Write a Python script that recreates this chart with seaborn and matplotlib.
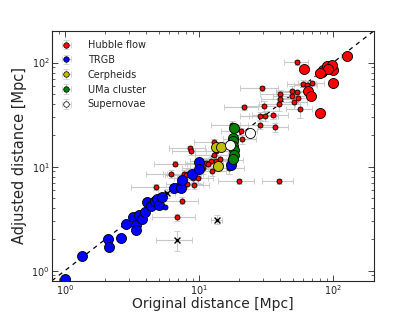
import numpy as np
import pandas as pd
import matplotlib
matplotlib.use("Agg")
import matplotlib.pyplot as plt
import seaborn as sns

# Hubble flow, small points (original / adjusted distance in Mpc)
hub_small_x = [53.7, 29.5, 21.5, 60.1, 69.8, 49.6, 53.7, 49.3, 50.7, 40.4,
               40.4, 39.7, 56.8, 35.6, 31.2, 28.7, 30.7, 28.7, 37.0, 20.7,
               17.7, 20.9, 13.0, 8.54, 8.75, 13.3, 12.9, 12.2, 13.3, 11.2,
               10.7, 12.5, 14.4, 16.9, 16.7, 19.8, 39.7, 6.61, 6.21, 7.71,
               8.26, 9.06, 9.80, 9.15, 8.17, 4.75, 7.50, 6.88, 7.94, 63.7,
               54.3, 11.6]
hub_small_y = [100.7, 56.5, 37.0, 62.7, 63.4, 53.6, 51.6, 48.0, 42.0, 49.9,
               44.6, 39.9, 35.7, 31.4, 30.8, 30.8, 38.4, 25.2, 24.1, 22.0,
               25.2, 18.3, 17.2, 15.0, 14.1, 14.1, 12.9, 11.3, 11.3, 10.9,
               9.73, 9.05, 11.9, 11.5, 9.73, 7.24, 7.24, 10.7, 8.52, 8.41,
               8.52, 7.69, 7.79, 6.63, 6.82, 6.38, 4.72, 3.25, 8.28, 60.9,
               45.6, 10.6]
# relative errors
hub_small_xerr = [0.20, 0.32, 0.28, 0.25, 0.22, 0.25, 0.30, 0.28, 0.25, 0.30,
                  0.28, 0.30, 0.22, 0.30, 0.25, 0.30, 0.28, 0.30, 0.25, 0.30,
                  0.30, 0.28, 0.30, 0.30, 0.28, 0.30, 0.28, 0.30, 0.25, 0.30,
                  0.30, 0.28, 0.30, 0.25, 0.30, 0.30, 0.26, 0.30, 0.35, 0.30,
                  0.30, 0.28, 0.30, 0.30, 0.30, 0.35, 0.30, 0.35, 0.30, 0.20,
                  0.25, 0.30]
hub_small_yerr = [0.05, 0.05, 0.05, 0.08, 0.06, 0.10, 0.06, 0.12, 0.15, 0.08,
                  0.10, 0.15, 0.18, 0.08, 0.10, 0.08, 0.12, 0.08, 0.10, 0.08,
                  0.10, 0.10, 0.08, 0.06, 0.08, 0.10, 0.12, 0.10, 0.15, 0.10,
                  0.12, 0.10, 0.08, 0.10, 0.12, 0.05, 0.05, 0.06, 0.08, 0.10,
                  0.12, 0.10, 0.10, 0.08, 0.10, 0.06, 0.08, 0.08, 0.10, 0.08,
                  0.12, 0.10]

# Hubble flow, large points
hub_big_x = [126.5, 60.9, 100.5, 100.5, 80.3, 65.5, 68.2, 82.4, 84.7, 89.8, 97.8, 92.3, 80.0]
hub_big_y = [115.0, 86.9, 84.7, 63.7, 32.5, 53.1, 48.0, 80.5, 85.0, 93.5, 95.7, 86.9, 78.8]
hub_big_xerr = [0.09, 0.08, 0.08, 0.09, 0.08, 0.07, 0.07, 0.08, 0.08, 0.08, 0.08, 0.08, 0.08]
hub_big_yerr = [0.05, 0.05, 0.05, 0.05, 0.05, 0.05, 0.05, 0.05, 0.05, 0.05, 0.05, 0.05, 0.05]

# TRGB
trgb_x = [1.00, 1.35, 2.10, 2.14, 2.62, 2.87, 3.24, 3.37, 3.39, 3.55, 3.74, 3.95,
          4.09, 4.36, 4.67, 4.89, 5.02, 5.33, 6.50, 7.29, 7.41, 8.90, 9.97, 9.97, 17.3]
trgb_y = [0.824, 1.38, 2.02, 1.68, 2.08, 2.78, 3.27, 2.77, 2.47, 3.45, 3.16, 3.66,
          4.57, 4.22, 4.64, 4.93, 4.31, 5.15, 6.27, 6.27, 7.36, 8.52, 11.05, 9.56, 10.3]
trgb_small_x = [5.57]
trgb_small_y = [4.11]

# Cepheids
ceph_x = [13.4, 14.7, 13.9]
ceph_y = [15.3, 15.5, 10.2]

# UMa cluster
uma_x = [18.1, 17.9, 17.8, 18.0, 18.1, 18.1, 18.0]
uma_y = [23.4, 19.0, 17.5, 15.8, 14.3, 12.9, 11.9]

# Supernovae
sn_x = [23.9, 16.9]
sn_y = [20.9, 16.1]

# outliers (crosses)
cross_x = [13.6, 6.88, 5.8]
cross_y = [3.09, 1.98, 5.6]
cross_xerr = [0.10, 0.30, 0.15]
cross_yerr = [0.10, 0.22, 0.10]

diag = [0.8, 200]

legend_labels = ["Hubble flow", "TRGB", "Cerpheids", "UMa cluster", "Supernovae"]
legend_colors = ["r", "b", "y", "g", "w"]

sns.set_style("ticks")
plt.rcParams["font.family"] = ["DejaVu Sans"]
plt.rcParams["xtick.direction"] = "in"
plt.rcParams["ytick.direction"] = "in"
plt.rcParams["xtick.top"] = True
plt.rcParams["ytick.right"] = True

fig = plt.figure(figsize=(4.15, 3.12), dpi=100)
ax = fig.add_axes([0.125, 0.1, 0.775, 0.8])
ax.set_xscale("log")
ax.set_yscale("log")


def bars(x, y, xe, ye, z=2):
    x = np.array(x)
    y = np.array(y)
    _, caps, lines = ax.errorbar(x, y, xerr=x * np.array(xe), yerr=y * np.array(ye),
                                 fmt="none", ecolor="#c8c8c8", elinewidth=0.8,
                                 capsize=2, capthick=0.6, zorder=z)
    for c in caps:
        c.set_color("#777777")


bars(hub_small_x, hub_small_y, hub_small_xerr, hub_small_yerr)
bars(hub_big_x, hub_big_y, hub_big_xerr, hub_big_yerr)
bars(cross_x, cross_y, cross_xerr, cross_yerr)
bars(uma_x, uma_y, [0.05] * len(uma_x), [0.04] * len(uma_y))
bars(ceph_x, ceph_y, [0.05] * len(ceph_x), [0.04] * len(ceph_y))
bars(sn_x, sn_y, [0.06] * len(sn_x), [0.05] * len(sn_y))

sns.lineplot(x=diag, y=diag, color="k", linestyle=(0, (3.5, 3.5)), linewidth=0.9, ax=ax, zorder=1)

big = 52
small = 13
sns.scatterplot(x=hub_small_x, y=hub_small_y, color="r", s=small, edgecolor="k", linewidth=0.6, ax=ax, zorder=4)
sns.scatterplot(x=trgb_x, y=trgb_y, color="b", s=big, edgecolor="k", linewidth=0.6, ax=ax, zorder=4)
sns.scatterplot(x=trgb_small_x, y=trgb_small_y, color="b", s=small, edgecolor="k", linewidth=0.6, ax=ax, zorder=4)
sns.scatterplot(x=ceph_x, y=ceph_y, color="y", s=big, edgecolor="k", linewidth=0.6, ax=ax, zorder=4)
sns.scatterplot(x=uma_x, y=uma_y, color="g", s=big, edgecolor="k", linewidth=0.6, ax=ax, zorder=4)
sns.scatterplot(x=sn_x, y=sn_y, color="w", s=big, edgecolor="k", linewidth=0.6, ax=ax, zorder=4)
sns.scatterplot(x=hub_big_x, y=hub_big_y, color="r", s=big, edgecolor="k", linewidth=0.6, ax=ax, zorder=4)
sns.scatterplot(x=cross_x, y=cross_y, color="k", marker="x", s=18, linewidth=1.0, ax=ax, zorder=5)

# legend proxies: marker with error bars
handles = []
for lab, col in zip(legend_labels, legend_colors):
    h = ax.errorbar([np.nan], [np.nan], xerr=[1], yerr=[1], fmt="o", color=col, mec="k",
                    mew=0.5, ms=4, ecolor="#c8c8c8", elinewidth=0.8, capsize=2, label=lab)
    for c in h[1]:
        c.set_color("#777777")
    handles.append(h)
ax.legend(handles=handles, loc="upper left", numpoints=1, frameon=False, fontsize=7,
          borderaxespad=0.4, handlelength=1.2, handletextpad=1.6, labelspacing=0.5,
          borderpad=0.5)

ax.set_xlim(0.8, 200)
ax.set_ylim(0.8, 200)
ax.tick_params(which="major", length=4, width=0.6, labelsize=7, pad=1.5)
ax.tick_params(which="minor", length=2, width=0.5)
for sp in ax.spines.values():
    sp.set_linewidth(0.8)
ax.set_xlabel("Original distance [Mpc]", fontsize=10, labelpad=0)
ax.set_ylabel("Adjusted distance [Mpc]", fontsize=10.5, labelpad=3)

fig.savefig("out.png", dpi=100)
